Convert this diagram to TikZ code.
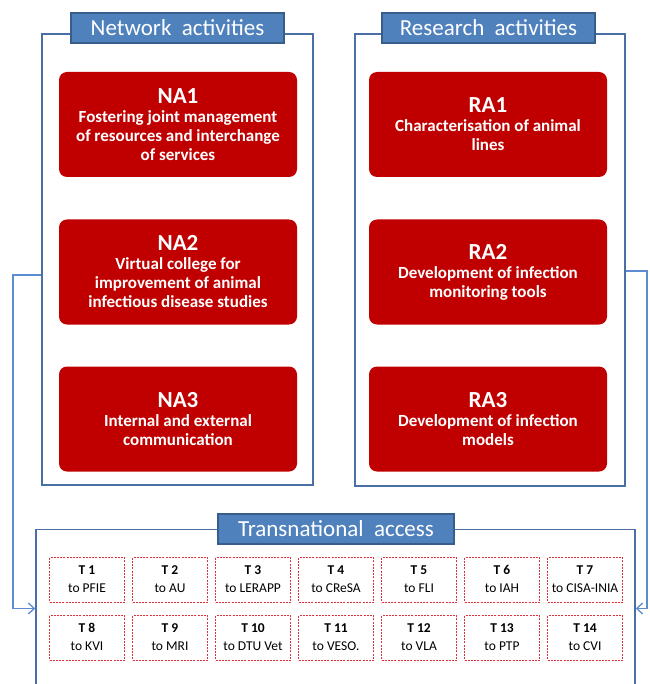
\documentclass[tikz,border=0pt]{standalone}
\usepackage{fontspec}
\setmainfont{Carlito}
\usetikzlibrary{positioning,arrows.meta}

\definecolor{actred}{HTML}{C00000}
\definecolor{headblue}{HTML}{4F81BD}
\definecolor{headedge}{HTML}{385D8A}
\definecolor{frameblue}{HTML}{4A6FA5}
\definecolor{linkblue}{HTML}{5B8BD0}
\definecolor{dashred}{HTML}{E0303A}

\tikzset{
  frame/.style={draw=frameblue,line width=1.4pt,inner sep=0pt},
  heading/.style={draw=headedge,fill=headblue,line width=1.2pt,text=white,
    minimum height=30pt,inner sep=0pt,font=\fontsize{23}{25}\selectfont},
  activity/.style={fill=actred,rounded corners=8pt,text=white,align=center,
    minimum width=238pt,minimum height=105pt,inner sep=0pt,
    font=\bfseries\fontsize{17}{19}\selectfont},
  access/.style={draw=dashred,line width=1.1pt,dash pattern=on 2pt off 1.2pt,
    minimum width=75pt,minimum height=45pt,inner sep=0pt,align=center,
    font=\fontsize{13.5}{18}\selectfont},
  link/.style={draw=linkblue,line width=1.3pt,-{Straight Barb[length=6pt,width=11pt]}}
}

\newcommand{\acttitle}[1]{{\fontsize{23}{26}\selectfont #1}\\}

\begin{document}
\begin{tikzpicture}[x=1pt,y=-1pt]
\useasboundingbox (0,0) rectangle (649,684);

%frames round the two groups of activities and the access block
\node[frame,minimum width=271pt,minimum height=451pt] (netframe) at (177.5,259.5) {};
\node[frame,minimum width=270pt,minimum height=452pt] (resframe) at (490,260) {};
\node[frame,minimum width=599pt,minimum height=158pt] (transframe) at (335.5,608.5) {};

%headings
\node[heading,minimum width=213pt] (nethead) at (177.5,28) {Network\ \ activities};
\node[heading,minimum width=213pt] (reshead) at (488.5,28) {Research\ \ activities};
\node[heading,minimum width=236pt] (transhead) at (336,529) {Transnational\ \ access};

%network activities
\node[activity] (na1) at (178,124.5) {\acttitle{NA1}Fostering joint management\\of resources and interchange\\of services};
\node[activity] (na2) at (178,272) {\acttitle{NA2}Virtual college for\\improvement of animal\\infectious disease studies};
\node[activity] (na3) at (178,419) {\acttitle{NA3}Internal and external\\communication};

%research activities
\node[activity] (ra1) at (488,124.5) {\acttitle{RA1}Characterisation of animal\\lines};
\node[activity] (ra2) at (488,272) {\acttitle{RA2}Development of infection\\monitoring tools};
\node[activity] (ra3) at (488,419) {\acttitle{RA3}Development of infection\\models};

%transnational access to the sites
\foreach \site [count=\n] in {PFIE,AU,LERAPP,CReSA,FLI,IAH,CISA-INIA,KVI,MRI,DTU Vet,VESO.,VLA,PTP,CVI} {
  \pgfmathtruncatemacro{\col}{mod(\n-1,7)}
  \pgfmathtruncatemacro{\row}{(\n-1)/7}
  \node[access] (t\n) at (87+83*\col,580+58*\row) {\strut\textbf{T \n}\\\strut to \site};
}

%links into the access block
\coordinate (bendL) at (13,275);
\coordinate (bendR) at (647,271);
\draw[link] (netframe.west |- bendL) -- (bendL) |- (transframe.west);
\draw[link] (resframe.east |- bendR) -- (bendR) |- (transframe.east);
\end{tikzpicture}
\end{document}
